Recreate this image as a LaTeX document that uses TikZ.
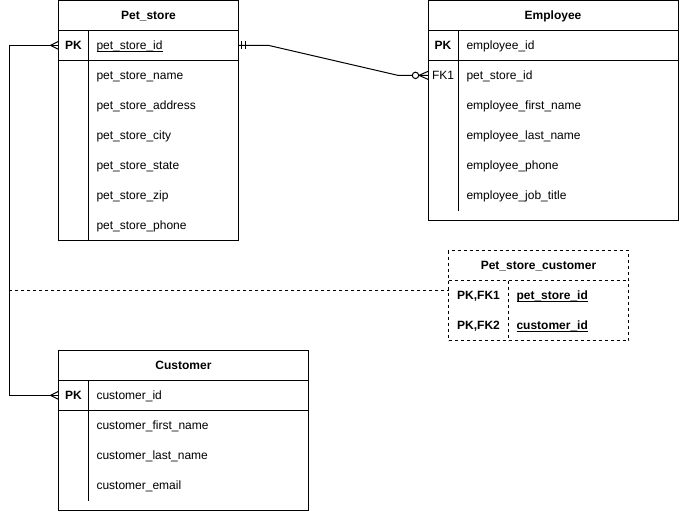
\documentclass[tikz,border=0pt]{standalone}
\usepackage{fontspec}
\setmainfont{Liberation Sans}
\usetikzlibrary{calc}
\newcommand{\myul}[1]{\setbox0\hbox{#1}\rlap{\rule[-2.3pt]{\wd0}{0.8pt}}\box0}
\begin{document}
\begin{tikzpicture}[x=1pt,y=-1pt,line width=1pt,
  every node/.style={font=\fontsize{12pt}{14pt}\selectfont,inner sep=0pt,outer sep=0pt},
  tbl/.style={draw,anchor=north west,fill=white},
  dtbl/.style={draw,anchor=north west,fill=white,dash pattern=on 3pt off 3pt},
  hdr/.style={anchor=base,font=\fontsize{12pt}{14pt}\selectfont\bfseries},
  keyb/.style={anchor=base,font=\fontsize{12pt}{14pt}\selectfont\bfseries},
  keyr/.style={anchor=base},
  fld/.style={anchor=base west},
  dsh/.style={dash pattern=on 3pt off 3pt}]
\useasboundingbox (0,0) rectangle (679,511);

% ---------- Pet_store ----------
\node[tbl,minimum width=180pt,minimum height=240pt] (ps) at (58.5,0.5) {};
\draw (58.5,30.5) -- (238.5,30.5);
\draw (58.5,60.5) -- (238.5,60.5);
\draw (88.5,30.5) -- (88.5,240.5);
\node[hdr] (ps-h) at (148.5,19.5) {Pet\_store};
\node[keyb] (ps-k1) at (73.5,49.5) {PK};
\node[fld] (ps-f1) at (96.5,49.5) {\myul{pet\_store\_id}};
\node[fld] (ps-f2) at (96.5,79.5) {pet\_store\_name};
\node[fld] (ps-f3) at (96.5,109.5) {pet\_store\_address};
\node[fld] (ps-f4) at (96.5,139.5) {pet\_store\_city};
\node[fld] (ps-f5) at (96.5,169.5) {pet\_store\_state};
\node[fld] (ps-f6) at (96.5,199.5) {pet\_store\_zip};
\node[fld] (ps-f7) at (96.5,229.5) {pet\_store\_phone};

% ---------- Employee ----------
\node[tbl,minimum width=250pt,minimum height=220pt] (emp) at (428,0.5) {};
\draw (428,30.5) -- (678,30.5);
\draw (428,60.5) -- (678,60.5);
\draw (458.5,30.5) -- (458.5,210.5);
\node[hdr] (emp-h) at (553,19.5) {Employee};
\node[keyb] (emp-k1) at (443,49.5) {PK};
\node[keyr] (emp-k2) at (443,79.5) {FK1};
\node[fld] (emp-f1) at (466.5,49.5) {employee\_id};
\node[fld] (emp-f2) at (466.5,79.5) {pet\_store\_id};
\node[fld] (emp-f3) at (466.5,109.5) {employee\_first\_name};
\node[fld] (emp-f4) at (466.5,139.5) {employee\_last\_name};
\node[fld] (emp-f5) at (466.5,169.5) {employee\_phone};
\node[fld] (emp-f6) at (466.5,199.5) {employee\_job\_title};

% ---------- Pet_store_customer ----------
\node[dtbl,minimum width=180pt,minimum height=90pt] (psc) at (448.5,250.5) {};
\draw[dsh] (448.5,280.5) -- (628.5,280.5);
\draw[dsh] (508.5,280.5) -- (508.5,340.5);
\node[hdr] (psc-h) at (538.5,269.5) {Pet\_store\_customer};
\node[keyb] (psc-k1) at (478.5,299.5) {PK,FK1};
\node[keyb] (psc-k2) at (478.5,329.5) {PK,FK2};
\node[fld,font=\fontsize{12pt}{14pt}\selectfont\bfseries] (psc-f1) at (516.5,299.5) {\myul{pet\_store\_id}};
\node[fld,font=\fontsize{12pt}{14pt}\selectfont\bfseries] (psc-f2) at (516.5,329.5) {\myul{customer\_id}};

% ---------- Customer ----------
\node[tbl,minimum width=250pt,minimum height=160pt] (cu) at (58.5,350.5) {};
\draw (58.5,380.5) -- (308.5,380.5);
\draw (58.5,410.5) -- (308.5,410.5);
\draw (88.5,380.5) -- (88.5,500.5);
\node[hdr] (cu-h) at (183.5,369.5) {Customer};
\node[keyb] (cu-k1) at (73.5,399.5) {PK};
\node[fld] (cu-f1) at (96.5,399.5) {customer\_id};
\node[fld] (cu-f2) at (96.5,429.5) {customer\_first\_name};
\node[fld] (cu-f3) at (96.5,459.5) {customer\_last\_name};
\node[fld] (cu-f4) at (96.5,489.5) {customer\_email};

% ---------- Pet_store (1) -- (0..n) Employee ----------
\coordinate (A) at (ps.east |- ps-k1);
\coordinate (B) at (emp.west |- emp-k2);
\draw (A) -- ++(30,0) -- ($(B)+(-30,0)$) -- (B);
\draw ($(A)+(2.5,-4)$) -- ++(0,8);
\draw ($(A)+(6.5,-4)$) -- ++(0,8);
\draw[fill=white] ($(B)+(-12.5,0)$) circle (3.2pt);
\draw ($(B)+(0,-4)$) -- ($(B)+(-9,0)$) -- ($(B)+(0,4)$);

% ---------- Pet_store (n) -- (n) Customer ----------
\coordinate (C) at (ps.west |- ps-k1);
\coordinate (D) at (cu.west |- cu-k1);
\draw (C) -- ++(-49.5,0) |- (D);
\draw ($(C)+(0,-4)$) -- ($(C)+(-8,0)$) -- ($(C)+(0,4)$);
\draw ($(D)+(0,-4)$) -- ($(D)+(-8,0)$) -- ($(D)+(0,4)$);

% ---------- association (dashed) ----------
\coordinate (J) at (9,290.5);
\draw[dsh] (J) -- (J -| psc.west);
\end{tikzpicture}
\end{document}
